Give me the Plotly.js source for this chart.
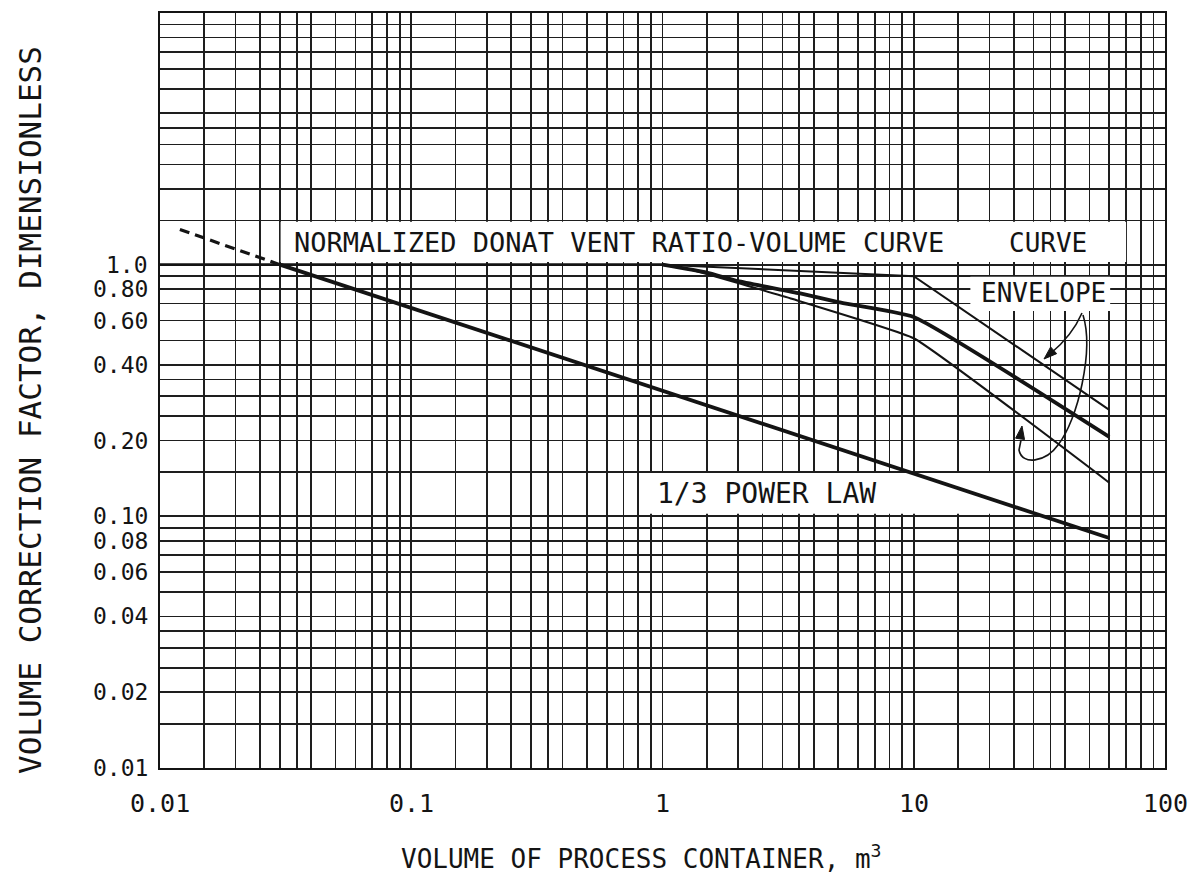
<!DOCTYPE html>
<html>
<head>
<meta charset="utf-8">
<script src="https://cdn.plot.ly/plotly-3.0.1.min.js"></script>
<style>html,body{margin:0;padding:0;background:#fff;}#chart{width:1197px;height:877px;}</style>
</head>
<body>
<div id="chart"></div>
<script>
// ---- data ----
const gridMantissas = [1, 1.5, 2, 2.5, 3, 3.5, 4, 5, 6, 7, 8, 9];
const xDecades = [0.01, 0.1, 1, 10];
const yDecades = [0.01, 0.1, 1];
const xTickVals = [0.01, 0.1, 1, 10, 100];
const xTickText = ["0.01", "0.1", "1", "10", "100"];
const yTickVals = [1, 0.8, 0.6, 0.4, 0.2, 0.1, 0.08, 0.06, 0.04, 0.02, 0.01];
const yTickText = ["1.0", "0.80", "0.60", "0.40", "0.20", "0.10", "0.08", "0.06", "0.04", "0.02", "0.01"];

const powerX = [0.03, 60];
const powerY = [1.0, 0.082];
const powerDashX = [0.012, 0.03];
const powerDashY = [1.38, 1.0];

const flatX = [0.01, 1];
const flatY = [1.0, 1.0];

const donatX = [1, 1.5, 2, 3.5, 5, 10, 60];
const donatY = [1.0, 0.93, 0.86, 0.77, 0.71, 0.62, 0.207];

const upperEnvX = [1, 10, 60];
const upperEnvY = [1.0, 0.9, 0.265];

const lowerEnvX = [1, 1.3, 3.3, 10, 60];
const lowerEnvY = [1.0, 0.955, 0.73, 0.51, 0.136];

// ---- build grid values ----
function gridFrom(decs, last) {
  const out = [];
  decs.forEach(d => gridMantissas.forEach(m => out.push(+(d * m).toPrecision(3))));
  out.push(last);
  return out;
}
const xGrid = gridFrom(xDecades, 100);
const yGrid = gridFrom(yDecades, 10);

const FONT = "DejaVu Sans Mono, monospace";
const INK = "#141414";

const traces = [
  {x: flatX, y: flatY, mode: "lines", line: {color: INK, width: 2.8}, hoverinfo: "skip"},
  {x: powerX, y: powerY, mode: "lines", line: {color: INK, width: 3.8}, hoverinfo: "skip"},
  {x: powerDashX, y: powerDashY, mode: "lines", line: {color: INK, width: 3.2, dash: "10px,6px"}, hoverinfo: "skip"},
  {x: donatX, y: donatY, mode: "lines", line: {color: INK, width: 3.8, shape: "spline", smoothing: 0.4}, hoverinfo: "skip"},
  {x: upperEnvX, y: upperEnvY, mode: "lines", line: {color: INK, width: 2.0}, hoverinfo: "skip"},
  {x: lowerEnvX, y: lowerEnvY, mode: "lines", line: {color: INK, width: 2.0, shape: "spline", smoothing: 0.3}, hoverinfo: "skip"}
];

// plot area in pixels (for decorative arrows / titles in paper coords)
const L = 160, R = 1165, T = 13, B = 768;
const px = (x) => (x - L) / (R - L);
const py = (y) => (B - y) / (B - T);
const P = (x, y) => px(x).toFixed(5) + "," + py(y).toFixed(5);

function head(tx, ty, dx, dy) {
  const n = Math.hypot(dx, dy); dx /= n; dy /= n;
  const len = 13, w = 4.5;
  const bx = tx - dx * len, by = ty - dy * len;
  return "M" + P(tx, ty) + " L" + P(bx - dy * w, by + dx * w) + " L" + P(bx + dy * w, by - dx * w) + " Z";
}

const shapes = [
  // white label boxes
  {type: "rect", xref: "x", yref: "y", x0: 0.0302, x1: 70, y0: 1.025, y1: 1.48, fillcolor: "#fff", line: {width: 0}, layer: "between"},
  {type: "rect", xref: "x", yref: "y", x0: 16.8, x1: 60.5, y0: 0.655, y1: 0.895, fillcolor: "#fff", line: {width: 0}, layer: "between"},
  {type: "rect", xref: "x", yref: "y", x0: 0.84, x1: 20.3, y0: 0.1025, y1: 0.1485, fillcolor: "#fff", line: {width: 0}, layer: "between"},
  // curved arrows from ENVELOPE
  {type: "path", xref: "paper", yref: "paper", path: "M" + P(1082, 313) + " Q" + P(1072, 336) + " " + P(1050, 354), line: {color: INK, width: 1.6}},
  {type: "path", xref: "paper", yref: "paper", path: head(1044, 359, -1, 0.9), fillcolor: INK, line: {color: INK, width: 1}},
  {type: "path", xref: "paper", yref: "paper",
   path: "M" + P(1083, 315) + " C" + P(1094, 350) + " " + P(1078, 420) + " " + P(1058, 445) +
         " C" + P(1046, 462) + " " + P(1022, 466) + " " + P(1019, 450) + " L" + P(1021, 440),
   line: {color: INK, width: 1.6}},
  {type: "path", xref: "paper", yref: "paper", path: head(1022, 426, 0.15, -1), fillcolor: INK, line: {color: INK, width: 1}}
];

const annotations = [
  {xref: "x", yref: "y", x: Math.log10(0.0335), y: Math.log10(1.23), text: "NORMALIZED DONAT VENT RATIO-VOLUME CURVE", xanchor: "left", showarrow: false, font: {family: FONT, size: 27, color: INK}},
  {xref: "x", yref: "y", x: Math.log10(23.5), y: Math.log10(1.22), text: "CURVE", xanchor: "left", showarrow: false, font: {family: FONT, size: 26, color: INK}},
  {xref: "x", yref: "y", x: Math.log10(18.2), y: Math.log10(0.775), text: "ENVELOPE", xanchor: "left", showarrow: false, font: {family: FONT, size: 26, color: INK}},
  {xref: "x", yref: "y", x: Math.log10(0.93), y: Math.log10(0.1235), text: "1/3 POWER LAW", xanchor: "left", showarrow: false, font: {family: FONT, size: 28, color: INK}},
  {xref: "paper", yref: "paper", x: px(641), y: py(857), text: "VOLUME OF PROCESS CONTAINER, m<sup>3</sup>", showarrow: false, xanchor: "center", yanchor: "middle", font: {family: FONT, size: 26, color: INK}},
  {xref: "paper", yref: "paper", x: px(30), y: py(410), text: "VOLUME CORRECTION FACTOR, DIMENSIONLESS", textangle: -90, showarrow: false, xanchor: "center", yanchor: "middle", font: {family: FONT, size: 31, color: INK}}
];

// tick labels (drawn as annotations so that unlabeled grid lines carry no empty texts)
xTickVals.forEach((v, i) => annotations.push({
  xref: "x", yref: "paper", x: Math.log10(v), y: py(803), text: xTickText[i], showarrow: false,
  xanchor: "center", yanchor: "middle", font: {family: FONT, size: 25, color: INK}
}));
yTickVals.forEach((v, i) => annotations.push({
  xref: "paper", yref: "y", x: px(149), y: Math.log10(v), text: yTickText[i], showarrow: false,
  xanchor: "right", yanchor: "middle", borderpad: 0, font: {family: FONT, size: 23, color: INK}
}));

const axisCommon = {
  showgrid: true, gridcolor: "#1e1e1e", gridwidth: 1.7,
  showline: true, linecolor: INK, linewidth: 2.4, mirror: true,
  zeroline: false, ticks: "", tickmode: "array", showticklabels: false
};

const layout = {
  width: 1197, height: 877,
  margin: {l: L, r: 1197 - R, t: T, b: 877 - B},
  paper_bgcolor: "#fff", plot_bgcolor: "#fff",
  showlegend: false,
  xaxis: Object.assign({}, axisCommon, {type: "log", range: [-2, 2], tickvals: xGrid}),
  yaxis: Object.assign({}, axisCommon, {type: "log", range: [-2, 1], tickvals: yGrid}),
  shapes: shapes,
  annotations: annotations
};

Plotly.newPlot("chart", traces, layout, {displayModeBar: false, staticPlot: true});
</script>
</body>
</html>
